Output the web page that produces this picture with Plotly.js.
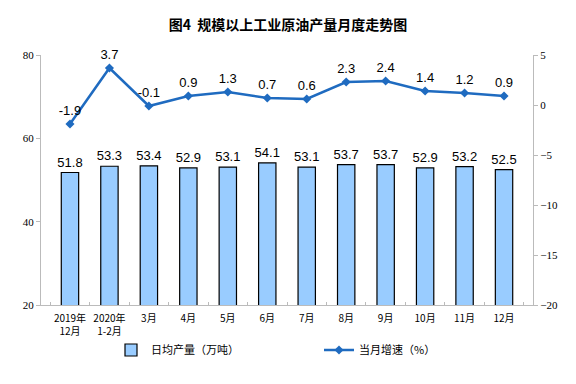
<!DOCTYPE html>
<html><head><meta charset="utf-8">
<script src="https://cdn.plot.ly/plotly-3.0.1.min.js"></script>
<style>html,body{margin:0;padding:0;background:#fff}#c{width:576px;height:384px}</style>
</head><body><div id="c"></div>
<script>
const categories = ["2019年<br>12月","2020年<br>1-2月","3月","4月","5月","6月","7月","8月","9月","10月","11月","12月"];
const output = [51.8,53.3,53.4,52.9,53.1,54.1,53.1,53.7,53.7,52.9,53.2,52.5];
const growth = [-1.9,3.7,-0.1,0.9,1.3,0.7,0.6,2.3,2.4,1.4,1.2,0.9];
const barName = "日均产量（万吨）";
const lineName = "当月增速（%）";

const cjk = '"Noto Sans CJK SC", sans-serif';
const traces = [
  {type:'bar', x:categories, y:output, name:barName, width:0.44,
   marker:{color:'#99CCFF', line:{color:'#000', width:1.2}},
   text:output.map(v=>v.toFixed(1)), textposition:'outside', cliponaxis:false, constraintext:'none',
   textfont:{family:'Liberation Sans, Arial', size:13, color:'#000'}},
  {type:'scatter', mode:'lines+markers+text', x:categories, y:growth, yaxis:'y2', name:lineName,
   line:{color:'#1F6BC0', width:2.5}, marker:{symbol:'diamond', size:7, color:'#1F6BC0'},
   text:growth.map(v=>v.toFixed(1)), textposition:'top center', cliponaxis:false,
   textfont:{family:'Liberation Sans, Arial', size:13, color:'#000'}}
];
const layout = {
  width:576, height:384, paper_bgcolor:'#fff', plot_bgcolor:'#fff',
  margin:{l:41, r:43, t:55, b:79},
  title:{text:'图4  规模以上工业原油产量月度走势图', x:0.5, xanchor:'center', y:0.935, yanchor:'middle',
    font:{family:cjk, size:14, color:'#000', weight:'bold'}},
  showlegend:true,
  legend:{orientation:'h', xref:'container', yref:'container', x:(111/576), xanchor:'left',
    y:1-350/384, yanchor:'middle',
    font:{family:cjk, size:11, color:'#000'}, entrywidth:163, entrywidthmode:'pixels'},
  xaxis:{type:'category', showline:true, linecolor:'#bbb', linewidth:1, ticks:'inside', tickson:'boundaries',
    ticklen:3, tickcolor:'#bbb', automargin:false, ticklabelstandoff:4, tickangle:0,
    tickfont:{family:cjk, size:10, color:'#000'}, showgrid:false},
  yaxis:{range:[20,80], dtick:20, showline:true, linecolor:'#bbb', ticks:'outside', ticklen:4, tickcolor:'#bbb',
    showgrid:false, zeroline:false, automargin:false,
    tickfont:{family:'Liberation Serif, Times New Roman', size:11, color:'#000'}},
  yaxis2:{range:[-20,5], dtick:5, overlaying:'y', side:'right', showline:true, linecolor:'#bbb', ticks:'outside',
    ticklen:4, tickcolor:'#bbb', showgrid:false, zeroline:false, automargin:false,
    tickfont:{family:'Liberation Serif, Times New Roman', size:11, color:'#000'}}
};
Plotly.newPlot('c', traces, layout, {displayModeBar:false, staticPlot:true});
</script></body></html>
